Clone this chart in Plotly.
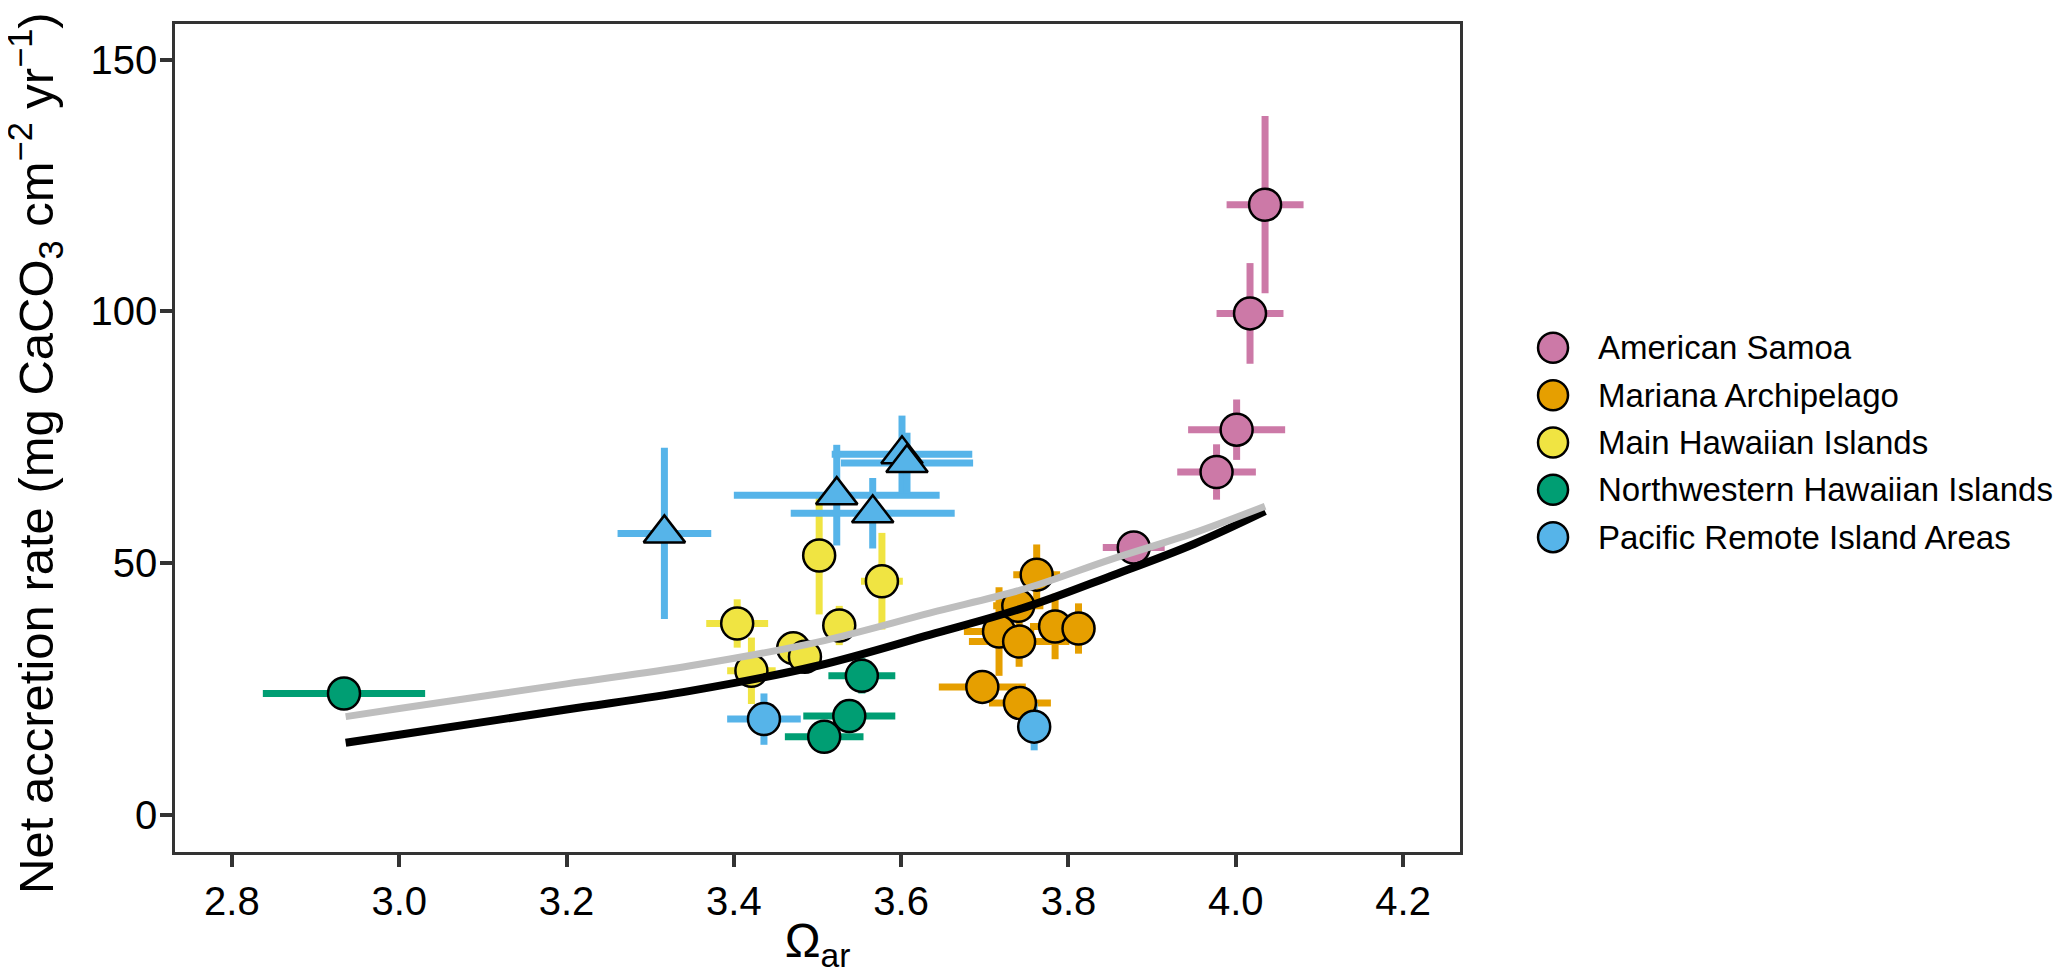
import plotly.graph_objects as go

# --- data ---
regions = ["American Samoa", "Mariana Archipelago", "Main Hawaiian Islands",
           "Northwestern Hawaiian Islands", "Pacific Remote Island Areas"]
colors = ["#CC79A7", "#E69F00", "#F0E442", "#009E73", "#56B4E9"]

# American Samoa
as_x = [4.035, 4.017, 4.001, 3.977, 3.878]
as_y = [121.2, 99.6, 76.5, 68.1, 53.1]
as_xerr = [0.046, 0.040, 0.058, 0.047, 0.037]
as_yerr = [17.6, 10.0, 6.0, 5.5, 2.0]

# Mariana Archipelago
ma_x = [3.762, 3.740, 3.717, 3.741, 3.784, 3.812, 3.697, 3.742]
ma_y = [47.7, 41.5, 36.4, 34.4, 37.4, 37.0, 25.4, 22.2]
ma_xerr = [0.028, 0.030, 0.042, 0.060, 0.030, 0.020, 0.052, 0.037]
ma_yerr = [6.0, 3.0, 8.8, 5.0, 6.5, 5.0, 2.5, 2.0]

# Main Hawaiian Islands
mh_x = [3.502, 3.577, 3.404, 3.526, 3.471, 3.485, 3.421]
mh_y = [51.5, 46.4, 38.0, 37.6, 33.1, 31.4, 28.6]
mh_xerr = [0.020, 0.025, 0.037, 0.010, 0.020, 0.020, 0.029]
mh_yerr = [11.7, 9.6, 4.8, 3.9, 2.0, 2.0, 6.6]

# Northwestern Hawaiian Islands
nw_x = [2.934, 3.553, 3.538, 3.508]
nw_y = [24.1, 27.6, 19.6, 15.5]
nw_xerr = [0.097, 0.040, 0.055, 0.047]
nw_yerr = [1.5, 3.5, 1.5, 1.5]

# Pacific Remote Island Areas (circles)
pr_x = [3.436, 3.759]
pr_y = [19.0, 17.5]
pr_xerr = [0.044, 0.010]
pr_yerr = [5.1, 4.7]

# Pacific Remote Island Areas (triangles)
tr_x = [3.317, 3.523, 3.566, 3.601, 3.607]
tr_y = [55.9, 63.5, 59.9, 71.6, 69.9]
tr_xerr = [0.056, 0.123, 0.098, 0.084, 0.079]
tr_yerr = [17.0, 10.0, 7.0, 7.7, 6.0]

# fitted curves
fit_x = [2.936, 3.0, 3.2, 3.348, 3.5, 3.635, 3.75, 3.85, 3.95, 4.035]
fit_black = [14.3, 15.9, 20.9, 24.6, 29.6, 35.8, 41.3, 47.4, 53.8, 60.3]
fit_gray = [19.5, 21.1, 26.0, 29.6, 34.3, 40.1, 45.0, 50.7, 56.0, 61.3]

groups = [
    (as_x, as_y, as_xerr, as_yerr, colors[0], "circle"),
    (ma_x, ma_y, ma_xerr, ma_yerr, colors[1], "circle"),
    (mh_x, mh_y, mh_xerr, mh_yerr, colors[2], "circle"),
    (nw_x, nw_y, nw_xerr, nw_yerr, colors[3], "circle"),
    (pr_x, pr_y, pr_xerr, pr_yerr, colors[4], "circle"),
    (tr_x, tr_y, tr_xerr, tr_yerr, colors[4], "triangle-up"),
]

FONT = "Liberation Sans, Arial, sans-serif"
fig = go.Figure()

# error bars first (all below points, like ggplot)
for x, y, xe, ye, c, sym in groups:
    fig.add_trace(go.Scatter(
        x=x, y=y, mode="markers", showlegend=False, hoverinfo="skip",
        marker=dict(size=1, color="rgba(0,0,0,0)"),
        error_x=dict(type="data", array=xe, symmetric=True, thickness=7, width=0, color=c),
        error_y=dict(type="data", array=ye, symmetric=True, thickness=7, width=0, color=c)))

# points
for x, y, xe, ye, c, sym in groups:
    fig.add_trace(go.Scatter(
        x=x, y=y, mode="markers", showlegend=False,
        marker=dict(symbol=sym, size=36 if sym != "circle" else 32, color=c,
                    line=dict(color="black", width=2.5))))

# fitted lines on top
fig.add_trace(go.Scatter(x=fit_x, y=fit_black, mode="lines", showlegend=False,
                         line=dict(color="black", width=8, shape="spline")))
fig.add_trace(go.Scatter(x=fit_x, y=fit_gray, mode="lines", showlegend=False,
                         line=dict(color="#BEBEBE", width=7, shape="spline")))

# legend drawn by hand so the keys keep the reference size
for i, (name, c) in enumerate(zip(regions, colors)):
    yy = 1 - (349 + 47.5 * i - 24) / 831
    fig.add_shape(type="circle", xref="paper", yref="paper",
                  xsizemode="pixel", ysizemode="pixel",
                  xanchor=1.0724, yanchor=yy, x0=-15, x1=15, y0=-15, y1=15,
                  fillcolor=c, line=dict(color="black", width=2.5))
    fig.add_annotation(x=1.1055, y=yy, xref="paper", yref="paper", text=name,
                       showarrow=False, xanchor="left", yanchor="middle",
                       font=dict(size=33, color="black", family=FONT))

# y title as a rotated annotation so it sits where the reference has it
fig.add_annotation(x=0, y=0.482, xref="paper", yref="paper", xshift=-139,
                   text="Net accretion rate (mg CaCO<sub>3</sub> cm<sup>−2</sup> yr<sup>−1</sup>)",
                   textangle=-90, showarrow=False, xanchor="center", yanchor="middle",
                   font=dict(size=49, color="black", family=FONT))

axis_style = dict(showline=True, linecolor="#333333", linewidth=2.5, mirror=True,
                  ticks="outside", ticklen=12, tickwidth=4, tickcolor="#333333",
                  showgrid=False, zeroline=False,
                  tickfont=dict(size=40, color="black", family=FONT))

# page body adds an 8px margin, so the figure is 8px smaller than the window
fig.update_layout(
    width=2054, height=966,
    margin=dict(l=167, r=602, t=16, b=119),
    plot_bgcolor="white", paper_bgcolor="white",
    font=dict(family=FONT, color="black"),
    xaxis=dict(range=[2.732, 4.268], tickvals=[2.8, 3.0, 3.2, 3.4, 3.6, 3.8, 4.0, 4.2],
               tickformat=".1f",
               title=dict(text="Ω<sub>ar</sub>", font=dict(size=48), standoff=6),
               **axis_style),
    yaxis=dict(range=[-7.4, 157.1], tickvals=[0, 50, 100, 150], ticklabelstandoff=-5,
               **axis_style),
)

fig.write_html("out.html")
